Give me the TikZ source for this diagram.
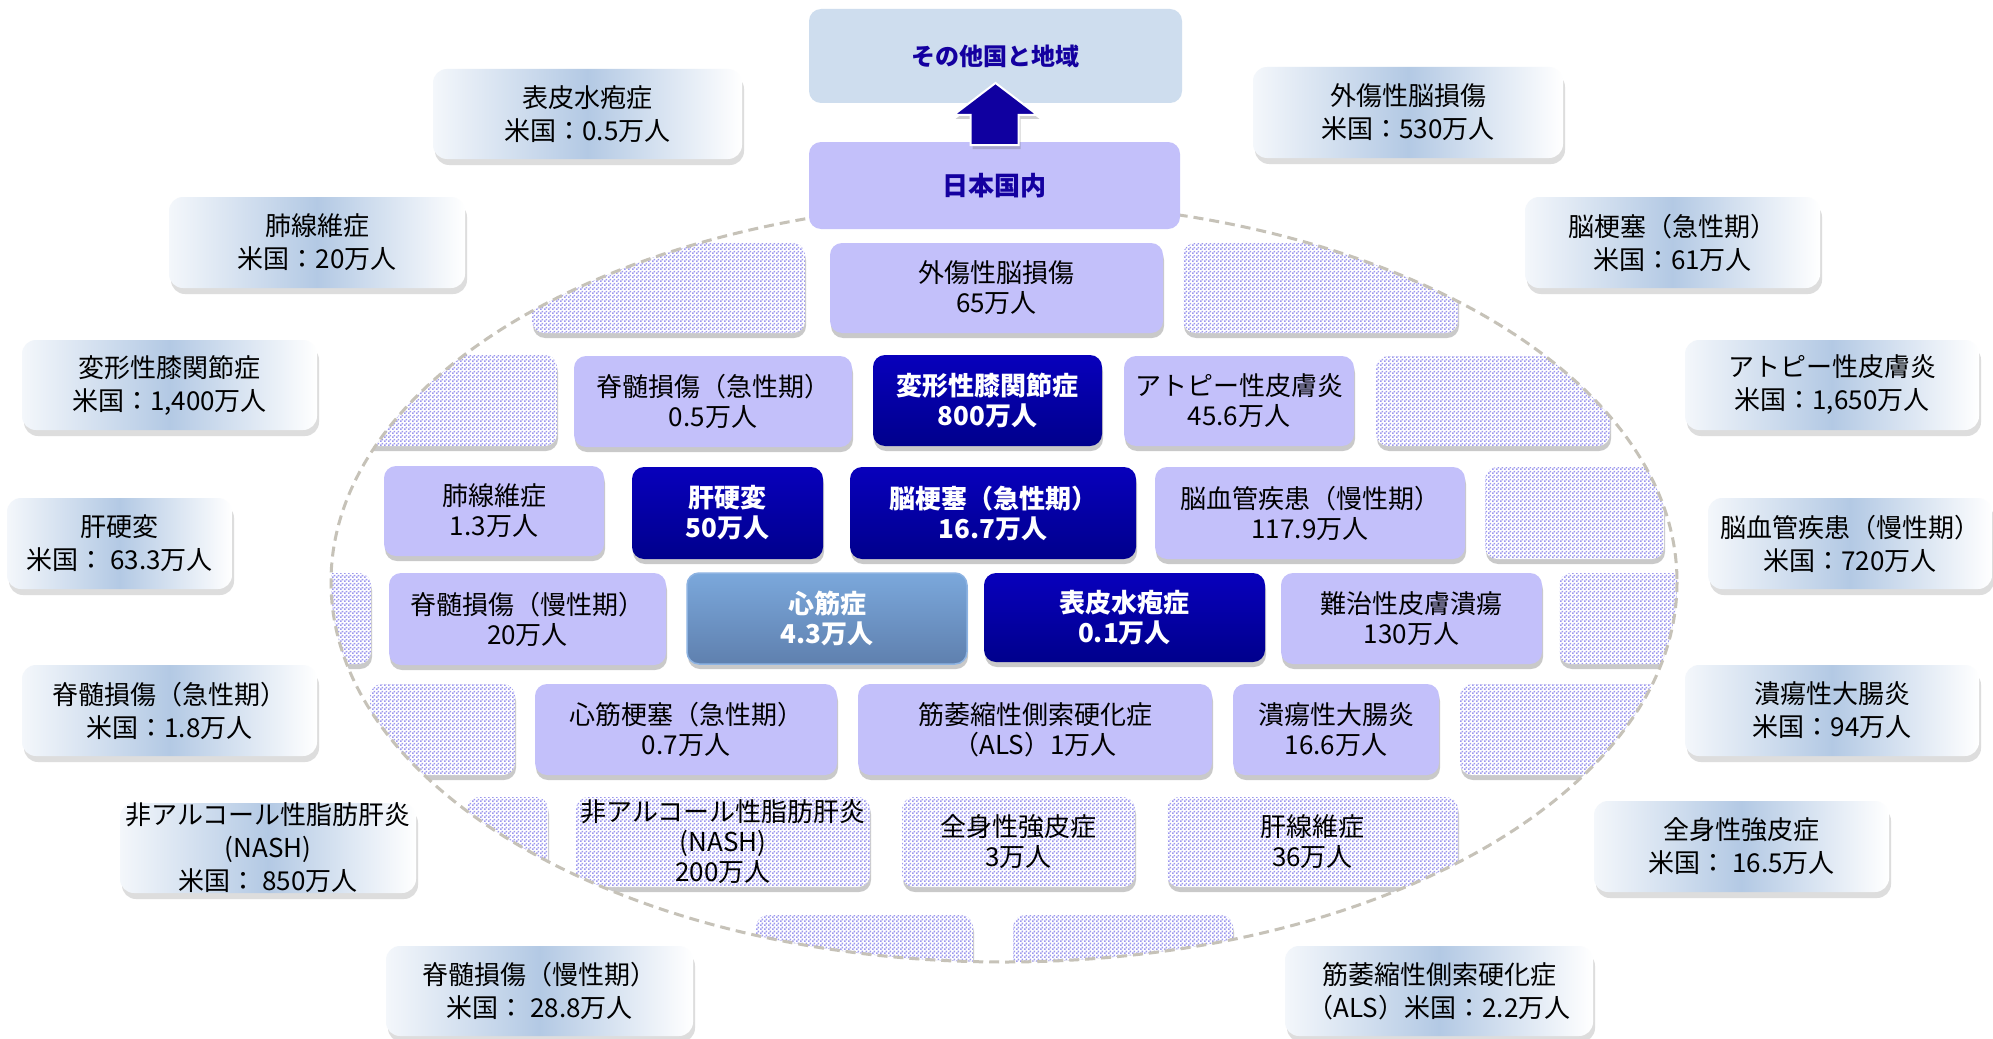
\documentclass[tikz,border=0pt]{standalone}
\usepackage{fontspec}
\setmainfont{Noto Sans CJK JP}
\usetikzlibrary{shadows,patterns.meta,calc}
\definecolor{lav}{HTML}{C3C0FA}
\definecolor{patcol}{HTML}{9C98EE}
\definecolor{dkTop}{HTML}{0800BC}
\definecolor{dkBot}{HTML}{00008C}
\definecolor{hcTop}{HTML}{7BA8DC}
\definecolor{hcBot}{HTML}{5F80AE}
\definecolor{hcEdge}{HTML}{8DB3E2}
\definecolor{usblue}{HTML}{B3C9E4}
\definecolor{topblue}{HTML}{CEDDEE}
\definecolor{navytext}{HTML}{1400A0}
\definecolor{arrowblue}{HTML}{1000A0}
\definecolor{ellcol}{HTML}{C6C2B8}
\tikzdeclarepattern{
  name=fineck,
  type=uncolored,
  bounding box={(0pt,0pt) and (4pt,4pt)},
  tile size={(4pt,4pt)},
  code={\fill (0pt,0pt) rectangle (2pt,2pt); \fill (2pt,2pt) rectangle (4pt,4pt);}
}
\newcommand{\bx}[7]{\node[#1, minimum width={(#5)-(#3)}, minimum height={(#6)-(#4)}] (#2) at ({((#3)+(#5))/2},{((#4)+(#6))/2}) {#7};}
\begin{document}
\begin{tikzpicture}[x=1pt,y=-1pt,
  base/.style={rounded corners=12pt, align=center, inner sep=0pt, outer sep=0pt},
  inshadow/.style={drop shadow={shadow xshift=1pt,shadow yshift=-5pt,opacity=.35,fill=black!60}},
  outbox/.style={base, rounded corners=14pt, left color=white!85!usblue, right color=white, middle color=usblue,
    drop shadow={shadow xshift=2pt,shadow yshift=-6pt,opacity=.22,fill=black!60},
    font=\fontsize{26}{33}\selectfont},
  ltbox/.style={base, fill=lav, inshadow, font=\fontsize{26}{30}\selectfont},
  dkbox/.style={base, top color=dkTop, bottom color=dkBot, inshadow, text=white,
    font=\bfseries\fontsize{26}{30}\selectfont},
  hcbox/.style={base, top color=hcTop, bottom color=hcBot, draw=hcEdge, line width=1.5pt, inshadow,
    text=white, font=\bfseries\fontsize{26}{30}\selectfont},
  patbox/.style={base, inshadow, preaction={fill=white}, pattern=fineck, pattern color=patcol,
    font=\fontsize{26}{30}\selectfont},
  ellsty/.style={draw=ellcol, line width=3pt, dash pattern=on 10pt off 6pt},
  arrowsty/.style={fill=arrowblue, draw=white, line width=2pt,
    drop shadow={shadow xshift=2pt,shadow yshift=-4pt,opacity=.3,fill=black!60}}
]
\useasboundingbox[fill=white] (0,0) rectangle (1993,1038);

% inner boxes clipped by the ellipse
\begin{scope}
\clip (1004,582) ellipse [x radius=673, y radius=380];
% row 1
\bx{patbox}{rOneA}{532}{243}{805}{333}{}
\bx{ltbox}{nTbi}{830}{243}{1163}{333}{外傷性脳損傷\\65万人}
\bx{patbox}{rOneB}{1183}{243}{1458}{333}{}
% row 2
\bx{patbox}{rTwoA}{320}{355}{557}{446}{}
\bx{ltbox}{nSciA}{574}{356}{852}{447}{脊髄損傷（急性期）\\0.5万人}
\bx{dkbox}{nOa}{873}{355}{1102}{446}{変形性膝関節症\\800万人}
\bx{ltbox}{nAd}{1124}{356}{1354}{446}{アトピー性皮膚炎\\45.6万人}
\bx{patbox}{rTwoB}{1376}{356}{1610}{446}{}
% row 3
\bx{ltbox}{nPf}{384}{466}{604}{556}{肺線維症\\1.3万人}
\bx{dkbox}{nLc}{632}{467}{823}{559}{肝硬変\\50万人}
\bx{dkbox}{nCi}{850}{467}{1136}{559}{脳梗塞（急性期）\\16.7万人}
\bx{ltbox}{nCvd}{1155}{467}{1465}{559}{脳血管疾患（慢性期）\\117.9万人}
\bx{patbox}{rThreeB}{1485}{467}{1664}{559}{}
% row 4
\bx{patbox}{rFourA}{290}{573}{371}{664}{}
\bx{ltbox}{nSciC}{389}{573}{666}{665}{脊髄損傷（慢性期）\\20万人}
\bx{hcbox}{nCm}{687}{573}{967}{664}{心筋症\\4.3万人}
\bx{dkbox}{nEb}{984}{573}{1265}{662}{表皮水疱症\\0.1万人}
\bx{ltbox}{nUlc}{1281}{573}{1542}{664}{難治性皮膚潰瘍\\130万人}
\bx{patbox}{rFourB}{1559}{573}{1710}{664}{}
% row 5
\bx{patbox}{rFiveA}{370}{684}{515}{775}{}
\bx{ltbox}{nMi}{535}{684}{837}{775}{心筋梗塞（急性期）\\0.7万人}
\bx{ltbox}{nAls}{858}{684}{1212}{775}{筋萎縮性側索硬化症\\（ALS）1万人}
\bx{ltbox}{nUc}{1233}{684}{1439}{775}{潰瘍性大腸炎\\16.6万人}
\bx{patbox}{rFiveB}{1460}{684}{1710}{775}{}
% row 6
\bx{patbox}{rSixA}{467}{797}{548}{887}{}
\bx{patbox}{nNash}{576}{797}{870}{887}{非アルコール性脂肪肝炎\\(NASH)\\200万人}
\bx{patbox}{nSsc}{902}{797}{1135}{887}{全身性強皮症\\3万人}
\bx{patbox}{nLf}{1167}{797}{1458}{887}{肝線維症\\36万人}
% row 7
\bx{patbox}{rSevenA}{756}{915}{973}{1005}{}
\bx{patbox}{rSevenB}{1013}{915}{1233}{1005}{}
\end{scope}

\draw[ellsty] (1004,582) ellipse [x radius=673, y radius=380];

% top boxes
\bx{base, fill=topblue, text=navytext, font=\bfseries\fontsize{24}{28}\selectfont}{other}{809}{9}{1182}{103}{その他国と地域}
\bx{base, fill=lav, text=navytext, font=\bfseries\fontsize{26}{30}\selectfont}{jp}{809}{142}{1180}{229}{日本国内}
\draw[arrowsty] let \p1=($(jp.north)+(0,3)$), \p2=($(other.south)+(0,-20)$) in
  (\x2,\y2) -- (\x2+42pt,\y2-32pt) -- (\x1+24pt,\y2-32pt) -- (\x1+24pt,\y1)
  -- (\x1-24pt,\y1) -- (\x1-24pt,\y2-32pt) -- (\x2-42pt,\y2-32pt) -- cycle;

% US boxes
\bx{outbox}{oEb}{433}{69}{742}{159}{表皮水疱症\\米国：0.5万人}
\bx{outbox}{oPf}{169}{197}{465}{288}{肺線維症\\米国：20万人}
\bx{outbox}{oOa}{22}{340}{317}{430}{変形性膝関節症\\米国：1,400万人}
\bx{outbox}{oLc}{7}{498}{232}{589}{肝硬変\\米国： 63.3万人}
\bx{outbox}{oSciA}{22}{665}{317}{756}{脊髄損傷（急性期）\\米国：1.8万人}
\bx{outbox}{oNash}{120}{803}{416}{893}{非アルコール性脂肪肝炎\\(NASH)\\米国： 850万人}
\bx{outbox}{oSciC}{386}{946}{693}{1036}{脊髄損傷（慢性期）\\米国： 28.8万人}
\bx{outbox}{oTbi}{1253}{67}{1563}{158}{外傷性脳損傷\\米国：530万人}
\bx{outbox}{oCi}{1525}{197}{1820}{288}{脳梗塞（急性期）\\米国：61万人}
\bx{outbox}{oAd}{1685}{340}{1979}{430}{アトピー性皮膚炎\\米国：1,650万人}
\bx{outbox}{oCvd}{1708}{498}{1992}{589}{脳血管疾患（慢性期）\\米国：720万人}
\bx{outbox}{oUc}{1685}{665}{1979}{756}{潰瘍性大腸炎\\米国：94万人}
\bx{outbox}{oSsc}{1594}{801}{1889}{892}{全身性強皮症\\米国： 16.5万人}
\bx{outbox}{oAls}{1285}{946}{1593}{1036}{筋萎縮性側索硬化症\\（ALS）米国：2.2万人}
\end{tikzpicture}
\end{document}
